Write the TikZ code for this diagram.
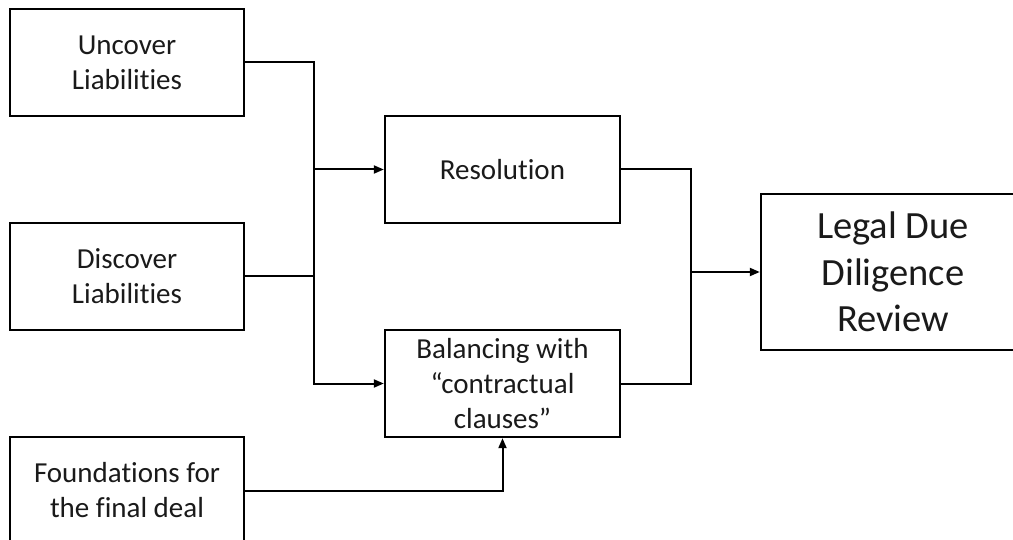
\documentclass[tikz,border=0pt]{standalone}
\usepackage{fontspec}
\setmainfont[Ligatures=NoCommon]{Carlito}
\usetikzlibrary{arrows.meta}
\definecolor{txt}{HTML}{1A1A1A}
\tikzset{
  box/.style={draw=black, line width=2.4pt, fill=white, inner sep=0pt, align=center,
    text=txt, font=\fontsize{29}{35}\selectfont},
  conn/.style={draw=black, line width=2pt},
  arr/.style={conn, -{Triangle[length=10pt,width=8pt]}},
}
\begin{document}
\begin{tikzpicture}[x=1pt,y=-1pt]
\useasboundingbox (0,0) rectangle (1013,540);
\clip (0,0) rectangle (1013,540);
\node[box, minimum width=234pt, minimum height=107pt] (U) at (127,62.5) {Uncover\\Liabilities};
\node[box, minimum width=234pt, minimum height=107pt] (D) at (127,276.5) {Discover\\Liabilities};
\node[box, minimum width=234pt, minimum height=107pt] (F) at (127,490.5) {Foundations for\\the final deal};
\node[box, minimum width=235pt, minimum height=107pt] (R) at (502.5,169.5) {Resolution};
\node[box, minimum width=235pt, minimum height=107pt] (B) at (502.5,383.5) {Balancing with\\“contractual\\clauses”};
\node[box, minimum width=264pt, minimum height=156pt, font=\fontsize{38.5}{46.5}\selectfont] (L) at (893,272) {Legal Due\\Diligence\\Review};
\coordinate (tr) at (314,0);
\coordinate (tr2) at (691,0);
\draw[arr] (U.east) -| (tr |- B.west) -- (B.west);
\draw[conn] (D.east) -- (tr |- D.east);
\draw[arr] (tr |- R.west) -- (R.west);
\draw[arr] (F.east) -| (B.south);
\draw[conn] (R.east) -| (tr2 |- B.east) -- (B.east);
\draw[arr] (tr2 |- L.west) -- (L.west);
\end{tikzpicture}
\end{document}
